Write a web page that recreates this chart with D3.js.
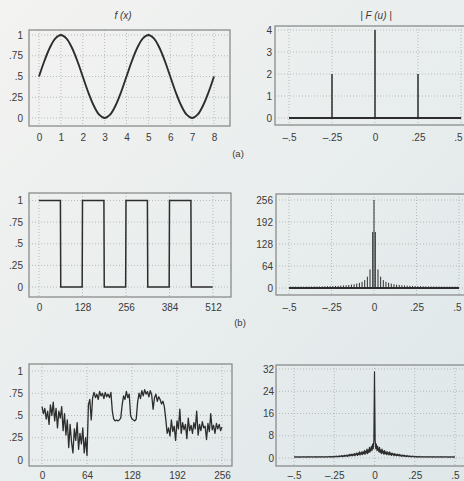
<!DOCTYPE html>
<html>
<head>
<meta charset="utf-8">
<title>Functions and their Fourier spectra</title>
<script src="https://cdn.jsdelivr.net/npm/d3@7"></script>
<style>
body { margin: 0; background: #e9eded; }
svg text { fill: #3a3a3a; }
</style>
</head>
<body>
<svg id="fig" width="464" height="481"></svg>
<script>
const FONT = '"Liberation Sans", Arial, sans-serif';
const INK = "#2d2d2d";

// ---- data ----
// (a) sampled sine, one value every 0.25
const sineStep = 0.25;
const sineValues = [0.5, 0.69, 0.85, 0.96, 1, 0.96, 0.85, 0.69, 0.5, 0.31, 0.15, 0.04, 0,
  0.04, 0.15, 0.31, 0.5, 0.69, 0.85, 0.96, 1, 0.96, 0.85, 0.69, 0.5, 0.31, 0.15, 0.04, 0,
  0.04, 0.15, 0.31, 0.5];
const sineSpecU = [-0.5, -0.375, -0.25, -0.125, 0, 0.125, 0.25, 0.375];
const sineSpecMag = [0, 0, 2, 0, 4, 0, 2, 0];

// (b) square wave, levels of consecutive 64-sample blocks
const squareBlock = 64;
const squareLevels = [1, 0, 1, 0, 1, 0, 1, 0];
const squareDC = 256;
const harmonicSpacing = 1 / 128;
// magnitudes of odd harmonics 1, 3, 5, ... 63
const squareHarmonics = [163, 54, 33, 23, 18, 15, 12.7, 11, 9.8, 8.8, 8.0, 7.4, 6.8, 6.4, 6.0, 5.6,
  5.3, 5.1, 4.9, 4.7, 4.5, 4.4, 4.3, 4.2, 4.1, 4.1, 4.0, 4.0, 4.0, 4.0, 4.0, 4.0];

// (c) noisy profile, one value every 2 samples (0..256)
const noisyStep = 2;
const noisyValues = [0.60, 0.52, 0.58, 0.46, 0.55, 0.40, 0.62, 0.50, 0.65, 0.44,
  0.58, 0.36, 0.55, 0.47, 0.60, 0.33, 0.52, 0.28, 0.45, 0.14,
  0.40, 0.20, 0.08, 0.35, 0.22, 0.42, 0.12, 0.30, 0.18, 0.36,
  0.08, 0.25, 0.05, 0.62, 0.68, 0.45, 0.70, 0.76, 0.70, 0.74,
  0.68, 0.77, 0.72, 0.75, 0.69, 0.76, 0.71, 0.74, 0.70, 0.76,
  0.55, 0.46, 0.44, 0.45, 0.44, 0.45, 0.47, 0.62, 0.72, 0.68,
  0.77, 0.70, 0.74, 0.50, 0.46, 0.45, 0.44, 0.46, 0.65, 0.75,
  0.69, 0.78, 0.72, 0.79, 0.74, 0.77, 0.71, 0.78, 0.73, 0.57,
  0.70, 0.74, 0.66, 0.71, 0.68, 0.63, 0.66, 0.60, 0.46, 0.30,
  0.36, 0.27, 0.45, 0.32, 0.38, 0.22, 0.44, 0.35, 0.57, 0.30,
  0.42, 0.34, 0.40, 0.24, 0.47, 0.33, 0.39, 0.30, 0.42, 0.35,
  0.55, 0.28, 0.40, 0.33, 0.43, 0.36, 0.38, 0.23, 0.41, 0.32,
  0.52, 0.34, 0.39, 0.30, 0.41, 0.35, 0.40, 0.33, 0.37];
// |F(u)| for u = k/256, k = 0..128 (mirrored for negative u)
const noisySpecN = 256;
const noisySpecHalf = [31, 6.5, 3.4, 5.0, 2.6, 4.2, 3.0, 2.2, 3.8, 2.0,
  2.9, 1.6, 3.2, 1.8, 2.5, 1.3, 2.7, 1.6, 2.1, 1.2,
  2.3, 1.4, 1.9, 1.0, 2.2, 1.3, 1.7, 0.9, 1.8, 1.2,
  1.5, 0.8, 1.6, 1.0, 1.3, 0.8, 1.4, 0.9, 1.2, 0.7,
  1.3, 0.8, 1.0, 0.6, 1.1, 0.7, 0.9, 0.6, 1.0, 0.6,
  0.8, 0.5, 0.9, 0.6, 0.7, 0.5, 0.8, 0.5, 0.6, 0.4,
  0.7, 0.5, 0.6, 0.4, 0.5, 0.4, 0.6, 0.3, 0.5, 0.4,
  0.5, 0.3, 0.6, 0.4, 0.4, 0.3, 0.5, 0.4, 0.4, 0.3,
  0.5, 0.3, 0.4, 0.4, 0.5, 0.3, 0.4, 0.3, 0.5, 0.4,
  0.4, 0.3, 0.4, 0.3, 0.5, 0.4, 0.3, 0.4, 0.4, 0.3,
  0.5, 0.3, 0.4, 0.4, 0.3, 0.4, 0.5, 0.3, 0.4, 0.3,
  0.4, 0.4, 0.3, 0.5, 0.3, 0.4, 0.4, 0.3, 0.4, 0.3,
  0.4, 0.3, 0.4, 0.4, 0.3, 0.4, 0.3, 0.4, 0.4];

// ---- ticks ----
const unitTicks = [0, 0.25, 0.5, 0.75, 1];
const unitLabels = ["0", ".25", ".5", ".75", "1"];
const freqTicks = [-0.5, -0.25, 0, 0.25, 0.5];
const freqLabels = ["\u2013.5", "\u2013.25", "0", ".25", ".5"];
const sineXTicks = [0, 1, 2, 3, 4, 5, 6, 7, 8];
const spec1YTicks = [0, 1, 2, 3, 4];
const squareXTicks = [0, 128, 256, 384, 512];
const spec2YTicks = [0, 64, 128, 192, 256];
const noisyXTicks = [0, 64, 128, 192, 256];
const spec3YTicks = [0, 8, 16, 24, 32];

const svg = d3.select("#fig");

// paper tone
const defs = svg.append("defs");
const grad = defs.append("linearGradient").attr("id", "paper")
  .attr("x1", 0).attr("y1", 0).attr("x2", 1).attr("y2", 1);
grad.append("stop").attr("offset", 0).attr("stop-color", "#f3f3f1");
grad.append("stop").attr("offset", 0.55).attr("stop-color", "#e8eded");
grad.append("stop").attr("offset", 1).attr("stop-color", "#dfe7e9");
svg.append("rect").attr("width", 464).attr("height", 481).attr("fill", "url(#paper)");

function panel(p) {
  const g = svg.append("g");
  const x = d3.scaleLinear().domain(p.xDomain).range(p.xRange);
  const y = d3.scaleLinear().domain(p.yDomain).range(p.yRange);
  const [fx0, fy0, fx1, fy1] = p.frame;

  g.append("g").selectAll("line").data(p.xTicks).join("line")
    .attr("x1", d => x(d)).attr("x2", d => x(d))
    .attr("y1", fy0).attr("y2", fy1)
    .attr("stroke", "#a9adad").attr("stroke-width", 0.8).attr("stroke-dasharray", "1,2");
  g.append("g").selectAll("line").data(p.yTicks).join("line")
    .attr("x1", fx0).attr("x2", fx1)
    .attr("y1", d => y(d)).attr("y2", d => y(d))
    .attr("stroke", "#a9adad").attr("stroke-width", 0.8).attr("stroke-dasharray", "1,2");

  g.append("rect")
    .attr("x", fx0).attr("y", fy0).attr("width", fx1 - fx0).attr("height", fy1 - fy0)
    .attr("fill", "none").attr("stroke", "#8a8d8d").attr("stroke-width", 1.3);

  const xa = g.append("g").attr("transform", `translate(0,${p.xLabelY - 3.5})`)
    .call(d3.axisBottom(x).tickValues(p.xTicks)
      .tickFormat((d, i) => p.xLabels[i]).tickSize(0).tickPadding(0));
  xa.select(".domain").remove();
  xa.attr("font-family", FONT).attr("font-size", 10);
  xa.selectAll("text").attr("fill", "#383838");
  // keep the right-most label inside the page
  if (p.lastLabelShift) {
    xa.selectAll(".tick:last-of-type text").attr("dx", p.lastLabelShift);
  }

  const ya = g.append("g").attr("transform", `translate(${p.yLabelX},0)`)
    .call(d3.axisLeft(y).tickValues(p.yTicks)
      .tickFormat((d, i) => p.yLabels[i]).tickSize(0).tickPadding(0));
  ya.select(".domain").remove();
  ya.attr("font-family", FONT).attr("font-size", 10);
  ya.selectAll("text").attr("fill", "#383838");

  return { g, x, y };
}

function stems(pn, us, mags, width) {
  pn.g.append("g").selectAll("line").data(us).join("line")
    .attr("x1", d => pn.x(d)).attr("x2", d => pn.x(d))
    .attr("y1", pn.y(0)).attr("y2", (d, i) => pn.y(mags[i]))
    .attr("stroke", INK).attr("stroke-width", width);
}

function baseline(pn) {
  const [u0, u1] = pn.x.domain();
  pn.g.append("line")
    .attr("x1", pn.x(u0)).attr("x2", pn.x(u1))
    .attr("y1", pn.y(0)).attr("y2", pn.y(0))
    .attr("stroke", INK).attr("stroke-width", 2);
}

// ---- row (a) ----
const pA = panel({
  frame: [29, 30, 230, 126], xDomain: [0, 8], xRange: [39, 214], yDomain: [0, 1], yRange: [118, 35],
  xTicks: sineXTicks, xLabels: sineXTicks.map(String), yTicks: unitTicks, yLabels: unitLabels,
  xLabelY: 137, yLabelX: 23
});
pA.g.append("path")
  .datum(sineValues)
  .attr("d", d3.line().x((d, i) => pA.x(i * sineStep)).y(d => pA.y(d)).curve(d3.curveCatmullRom))
  .attr("fill", "none").attr("stroke", INK).attr("stroke-width", 1.9);

const pB = panel({
  frame: [275, 26, 476, 125], xDomain: [-0.5, 0.5], xRange: [289, 461], yDomain: [0, 4], yRange: [118, 30],
  xTicks: freqTicks, xLabels: freqLabels, yTicks: spec1YTicks, yLabels: spec1YTicks.map(String),
  xLabelY: 137, yLabelX: 272, lastLabelShift: -3
});
baseline(pB);
stems(pB, sineSpecU, sineSpecMag, 1.5);

svg.append("text").attr("x", 123).attr("y", 19).attr("text-anchor", "middle")
  .attr("font-family", FONT).attr("font-size", 10).attr("font-style", "italic").text("f (x)");
svg.append("text").attr("x", 376).attr("y", 19).attr("text-anchor", "middle")
  .attr("font-family", FONT).attr("font-size", 10).attr("font-style", "italic").text("| F (u) |");
svg.append("text").attr("x", 238).attr("y", 157).attr("text-anchor", "middle")
  .attr("font-family", FONT).attr("font-size", 9.5).text("(a)");

// ---- row (b) ----
const pC = panel({
  frame: [29, 193, 231, 297], xDomain: [0, 512], xRange: [39, 213], yDomain: [0, 1], yRange: [287, 200.5],
  xTicks: squareXTicks, xLabels: squareXTicks.map(String), yTicks: unitTicks, yLabels: unitLabels,
  xLabelY: 307, yLabelX: 23
});
const squarePts = [];
squareLevels.forEach((v, i) => squarePts.push([i * squareBlock, v], [(i + 1) * squareBlock - 1, v]));
pC.g.append("path")
  .datum(squarePts)
  .attr("d", d3.line().x(d => pC.x(d[0])).y(d => pC.y(d[1])))
  .attr("fill", "none").attr("stroke", INK).attr("stroke-width", 1.5);

const pD = panel({
  frame: [276, 194, 478, 295], xDomain: [-0.5, 0.5], xRange: [289, 459], yDomain: [0, 256], yRange: [288, 200],
  xTicks: freqTicks, xLabels: freqLabels, yTicks: spec2YTicks, yLabels: spec2YTicks.map(String),
  xLabelY: 307, yLabelX: 273, lastLabelShift: -2
});
const sqU = [0], sqMag = [squareDC];
squareHarmonics.forEach((m, j) => {
  const u = (2 * j + 1) * harmonicSpacing;
  sqU.push(u, -u); sqMag.push(m, m);
});
baseline(pD);
stems(pD, sqU, sqMag, 1);

svg.append("text").attr("x", 240).attr("y", 326).attr("text-anchor", "middle")
  .attr("font-family", FONT).attr("font-size", 9.5).text("(b)");

// ---- row (c) ----
const pE = panel({
  frame: [29, 364, 232, 466], xDomain: [0, 256], xRange: [42, 222], yDomain: [0, 1], yRange: [460, 371],
  xTicks: noisyXTicks, xLabels: noisyXTicks.map(String), yTicks: unitTicks, yLabels: unitLabels,
  xLabelY: 475, yLabelX: 23
});
pE.g.append("path")
  .datum(noisyValues)
  .attr("d", d3.line().x((d, i) => pE.x(i * noisyStep)).y(d => pE.y(d)))
  .attr("fill", "none").attr("stroke", INK).attr("stroke-width", 1.3).attr("stroke-linejoin", "round");

const pF = panel({
  frame: [276, 365, 478, 466], xDomain: [-0.5, 0.5], xRange: [294, 455], yDomain: [0, 32], yRange: [458, 369],
  xTicks: freqTicks, xLabels: freqLabels, yTicks: spec3YTicks, yLabels: spec3YTicks.map(String),
  xLabelY: 475, yLabelX: 274
});
const half = noisySpecN / 2;
const specPts = d3.range(-half, half + 1).map(k => [k / noisySpecN, noisySpecHalf[Math.abs(k)]]);
pF.g.append("path")
  .datum(specPts)
  .attr("d", d3.line().x(d => pF.x(d[0])).y(d => pF.y(d[1])))
  .attr("fill", "none").attr("stroke", INK).attr("stroke-width", 1.2).attr("stroke-linejoin", "round");
</script>
</body>
</html>
